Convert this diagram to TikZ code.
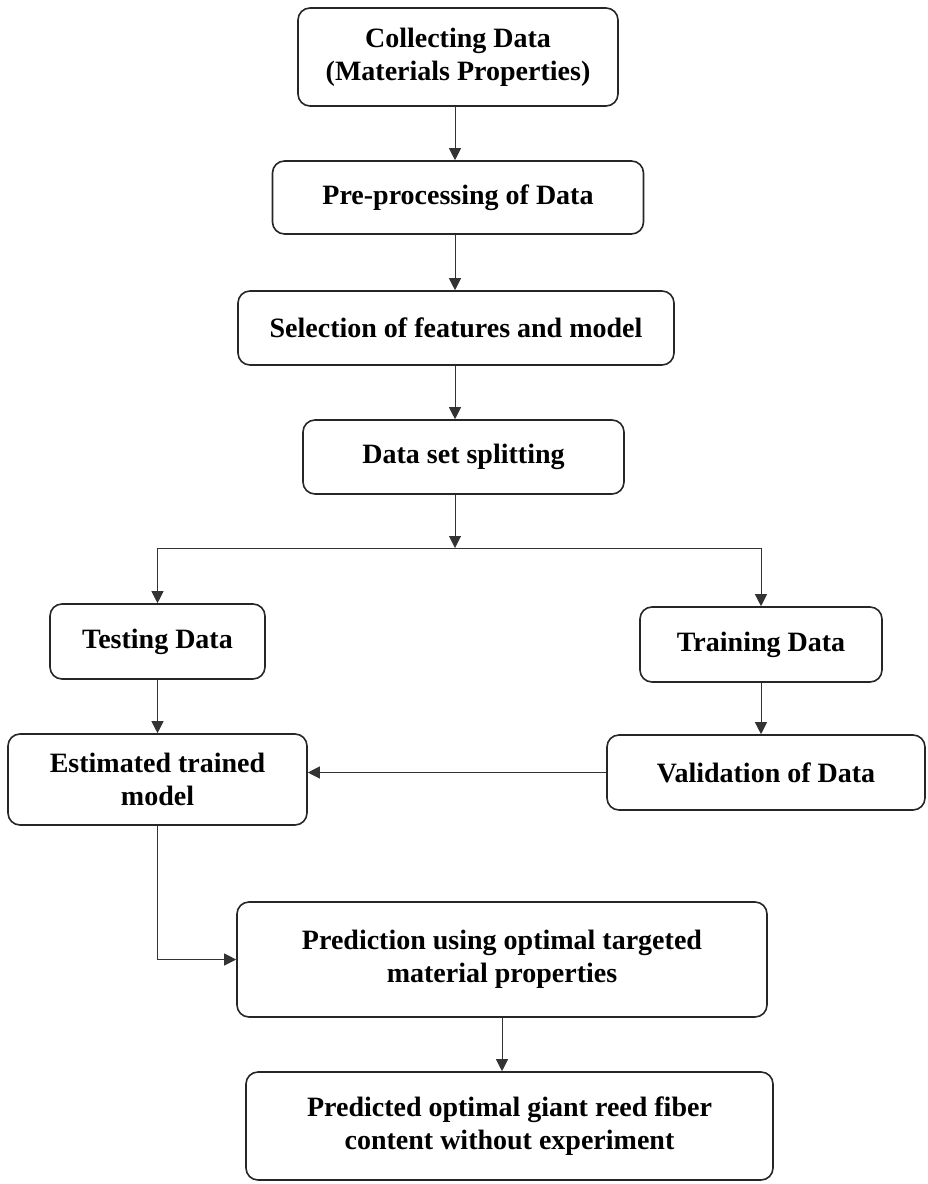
\documentclass[tikz,border=0pt]{standalone}
\usepackage{fontspec}
\setmainfont{Liberation Serif}
\usetikzlibrary{arrows.meta}
\begin{document}
\begin{tikzpicture}[x=1pt,y=-1pt,
    box/.style={draw=black!85,line width=1.6pt,rounded corners=12pt,align=center,
      inner sep=0pt,font=\fontsize{28}{33}\selectfont\bfseries},
    flow/.style={draw=black!80,line width=1pt,-{Triangle[width=12pt,length=12pt]}}]
    \useasboundingbox (0,0) rectangle (927,1184);
    \node[box,minimum width=320pt,minimum height=98pt] (collect) at (458,57)
      {Collecting Data\\(Materials Properties)};
    \node[box,minimum width=371pt,minimum height=73pt] (prep) at (458,197.5)
      {Pre-processing of Data};
    \node[box,minimum width=436pt,minimum height=74pt] (select) at (456,328)
      {Selection of features and model};
    \node[box,minimum width=321pt,minimum height=74pt] (split) at (463.5,457)
      {Data set splitting};
    \node[box,minimum width=215pt,minimum height=75pt] (testing) at (157.5,641.5)
      {Testing Data};
    \node[box,minimum width=242pt,minimum height=75pt] (training) at (761,644.5)
      {Training Data};
    \node[box,minimum width=299pt,minimum height=91pt] (estimated) at (157.5,779.5)
      {Estimated trained\\model};
    \node[box,minimum width=318pt,minimum height=75pt] (validation) at (766,772.5)
      {Validation of Data};
    \node[box,minimum width=530pt,minimum height=115pt] (prediction) at (502,959.5)
      {Prediction using optimal targeted\\material properties};
    \node[box,minimum width=527pt,minimum height=108pt] (predicted) at (509.5,1126)
      {Predicted optimal giant reed fiber\\content without experiment};
    \coordinate (fork) at (455,548);
    \draw[flow] (collect.south -| fork) -- (prep.north -| fork);
    \draw[flow] (prep.south -| fork) -- (select.north -| fork);
    \draw[flow] (select.south -| fork) -- (split.north -| fork);
    \draw[flow] (split.south -| fork) -- (fork);
    \draw[flow] (fork) -| (testing.north);
    \draw[flow] (fork) -| (training.north);
    \draw[flow] (testing) -- (estimated);
    \draw[flow] (training.south) -- (training.south |- validation.north);
    \draw[flow] (validation.west) -- (validation.west -| estimated.east);
    \draw[flow] (estimated.south) |- (prediction.west);
    \draw[flow] (prediction.south) -- (prediction.south |- predicted.north);
\end{tikzpicture}
\end{document}
